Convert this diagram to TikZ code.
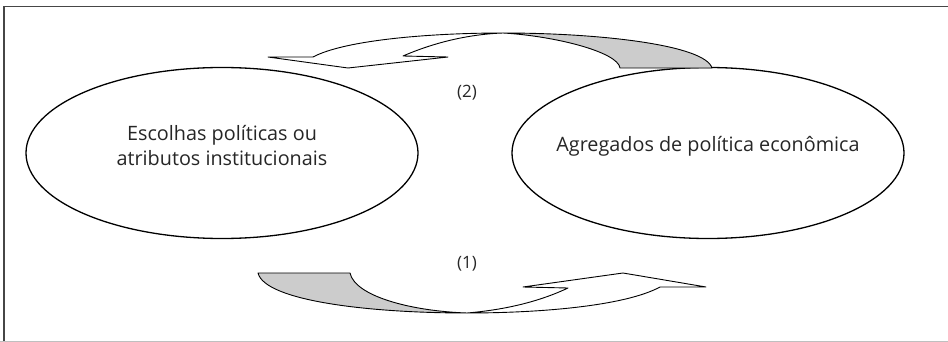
\documentclass[tikz,border=0pt]{standalone}
\usepackage{fontspec}
\setmainfont{Open Sans}
\usetikzlibrary{shapes.geometric,positioning}
\definecolor{backside}{RGB}{204,204,204}
\definecolor{framegray}{RGB}{70,70,70}

\begin{document}
\begin{tikzpicture}[x=1pt, y=-1pt,
    bubble/.style={draw, ellipse, line width=1.3pt, inner sep=0pt, minimum width=392pt, minimum height=171pt},
    bubbletext/.style={align=center, font=\fontsize{19.8}{25}\selectfont, text=black!85},
    numtext/.style={font=\fontsize{17}{20}\selectfont, text=black!85},
    ribbon/.style={draw, line width=0.9pt, line join=round}]
  \useasboundingbox (0,0) rectangle (948,342);
  % frame
  \draw[framegray, line width=1.6pt] (948,6.5) -- (4,6.5) -- (4,341);
  \draw[black!25, line width=1pt] (0,341.5) -- (948,341.5);
  % the two ellipses
  \node[bubble] (choice) at (222,153) {};
  \node[bubble] (aggr) at (708,153) {};
  \node[bubbletext] (choicetxt) at ([yshift=7pt]choice.center) {Escolhas políticas ou\\atributos institucionais};
  \node[bubbletext] (aggrtxt) at ([yshift=7pt]aggr.center) {Agregados de política econômica};
  \node[numtext] (two) at (467,93) {(2)};
  \node[numtext] (one) at (467,264) {(1)};
  % upper curved arrow, right to left
  \coordinate (ptop) at (503,33);
  \draw[ribbon, fill=backside] (ptop) .. controls (600,33) and (705,45) .. (712,68) -- (620,68)
      .. controls (618,52) and (555,36) .. (ptop);
  \draw[ribbon, fill=white] (ptop) .. controls (430,33) and (345,40) .. (313,57) -- (268,57) -- (348,68)
      -- (448,57) -- (403,56) .. controls (440,40) and (475,34) .. (ptop);
  % lower curved arrow, left to right
  \coordinate (pbot) at (467,313);
  \draw[ribbon, fill=backside] (pbot) .. controls (370,313) and (265,301) .. (258,273) -- (350,273)
      .. controls (355,296) and (410,311) .. (pbot);
  \draw[ribbon, fill=white] (pbot) .. controls (540,313) and (625,306) .. (660,287) -- (706,287) -- (623,273)
      -- (523,287) -- (568,288) .. controls (530,306) and (490,311) .. (pbot);
\end{tikzpicture}
\end{document}
